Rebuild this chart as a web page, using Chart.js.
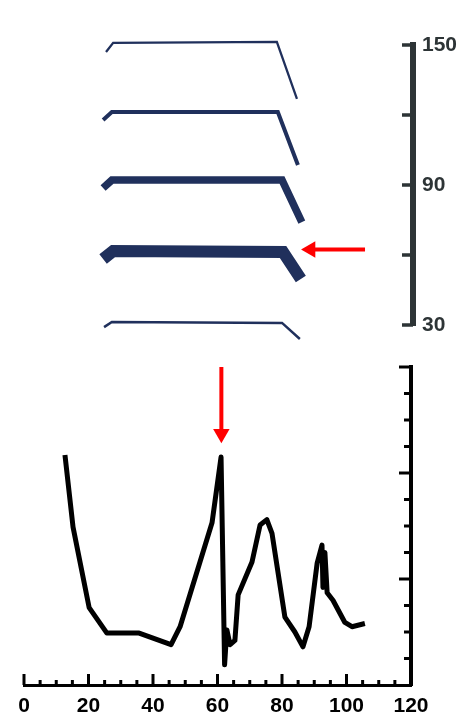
<!DOCTYPE html>
<html>
<head>
<meta charset="utf-8">
<script src="https://cdn.jsdelivr.net/npm/chart.js@4"></script>
<style>
  body { margin: 0; background: #fff; }
  #wrap { position: relative; width: 464px; height: 718px; }
  canvas { position: absolute; left: 0; }
  #top { top: 0; }
  #bottom { top: 350px; }
</style>
</head>
<body>
<div id="wrap">
  <canvas id="top" width="464" height="350"></canvas>
  <canvas id="bottom" width="464" height="368"></canvas>
</div>
<script>
// upper panel: five stacked profiles (x, y on the 30..150 axis)
var profile1X = [25.3, 27.5, 78.0, 84.2];
var profile1Y = [147.0, 150.9, 151.3, 126.9];
var profile2X = [24.4, 27.1, 78.3, 84.5];
var profile2Y = [117.9, 121.3, 121.3, 98.6];
var profile3X = [24.4, 27.1, 79.6, 85.7];
var profile3Y = [88.7, 92.1, 92.1, 74.1];
var profile4X = [24.4, 27.5, 79.9, 85.4];
var profile4Y = [58.3, 61.7, 61.3, 49.7];
var profile5X = [24.7, 27.1, 79.6, 85.1];
var profile5Y = [29.1, 31.3, 30.9, 24.0];
var profileWidths = [2.3, 4, 7.5, 12, 2.5];

var topTicks = [30, 60, 90, 120, 150];
var topLabels = [30, 90, 150];
var sideArrowX = [105.2, 88.4];
var sideArrowY = [62.4, 62.4];

// lower panel: trace on a 0..3 axis, x 0..120
var traceX = [12.7, 15.2, 20.2, 25.7, 35.7, 45.6, 48.4, 58.3, 61.1, 62.2, 62.9, 63.9, 65.4, 66.4,
              70.7, 73.2, 75.3, 76.9, 80.9, 84.0, 86.5, 88.4, 90.9, 92.4, 92.7, 93.3, 94.0, 95.8,
              99.5, 101.7, 105.7];
var traceY = [2.17, 1.49, 0.73, 0.49, 0.49, 0.38, 0.55, 1.53, 2.15, 0.19, 0.52, 0.38, 0.42, 0.85,
              1.16, 1.51, 1.56, 1.43, 0.64, 0.50, 0.36, 0.55, 1.15, 1.32, 0.92, 1.25, 0.87, 0.80,
              0.59, 0.55, 0.58];
var downArrowX = [61.2, 61.2];
var downArrowY = [3.0, 2.37];

var xMajor = [0, 20, 40, 60, 80, 100, 120];
var xMinor = [5, 10, 15, 25, 30, 35, 45, 50, 55, 65, 70, 75, 85, 90, 95, 105, 110, 115];
var yMajor = [1, 2, 3];
var yMinor = [0.25, 0.5, 0.75, 1.25, 1.5, 1.75, 2.25, 2.5, 2.75];

var NAVY = '#20305c';
var AXIS_DARK = '#2d3436';

function pts(xs, ys) {
    return xs.map(function(x, i){ return {x: x, y: ys[i]}; });
}

// tick marks that point into the plot
var innerTicks = {
    id: 'innerTicks',
    afterDraw: function(chart, args, opts) {
        var ctx = chart.ctx;
        ctx.save();
        ctx.lineCap = 'butt';
        opts.marks.forEach(function(m){
            var s = chart.scales[m.axis];
            ctx.strokeStyle = m.color;
            ctx.lineWidth = m.width;
            m.values.forEach(function(v){
                var p = s.getPixelForValue(v);
                ctx.beginPath();
                if (m.axis === 'x') {
                    ctx.moveTo(p, s.top);
                    ctx.lineTo(p, s.top - m.length);
                } else {
                    ctx.moveTo(s.left, p);
                    ctx.lineTo(s.left - m.length, p);
                }
                ctx.stroke();
            });
        });
        ctx.restore();
    }
};

var profileSets = [
    [profile1X, profile1Y], [profile2X, profile2Y], [profile3X, profile3Y],
    [profile4X, profile4Y], [profile5X, profile5Y]
].map(function(p, i){
    return {
        data: pts(p[0], p[1]),
        borderColor: NAVY,
        borderWidth: profileWidths[i],
        borderJoinStyle: 'miter',
        pointRadius: 0,
        tension: 0,
        clip: false
    };
});

profileSets.push({
    data: pts(sideArrowX, sideArrowY),
    borderColor: '#ff0000',
    backgroundColor: '#ff0000',
    borderWidth: 4,
    pointRadius: [0, 9.5],
    pointStyle: 'triangle',
    pointRotation: 270,
    pointBorderWidth: 0,
    tension: 0,
    clip: false
});

new Chart(document.getElementById('top'), {
    type: 'line',
    data: { datasets: profileSets },
    options: {
        responsive: false,
        animation: false,
        layout: { padding: { left: 24, top: 45, bottom: 25, right: 0 } },
        plugins: {
            legend: { display: false },
            tooltip: { enabled: false },
            innerTicks: { marks: [
                { axis: 'y', values: topTicks, length: 11, width: 3.5, color: AXIS_DARK }
            ] }
        },
        scales: {
            x: { type: 'linear', min: 0, max: 120, display: false },
            y: {
                type: 'linear', position: 'right', min: 30, max: 150,
                afterFit: function(s){ s.width = 51; },
                grid: { display: false, drawTicks: false },
                border: { display: true, color: AXIS_DARK, width: 6 },
                ticks: {
                    stepSize: 30,
                    padding: 9,
                    color: AXIS_DARK,
                    font: { family: 'Liberation Sans', size: 21, weight: 'bold' },
                    callback: function(v){ return topLabels.indexOf(v) >= 0 ? String(v) : ''; }
                }
            }
        }
    },
    plugins: [innerTicks]
});

new Chart(document.getElementById('bottom'), {
    type: 'line',
    data: {
        datasets: [{
            data: pts(traceX, traceY),
            borderColor: '#000',
            borderWidth: 5,
            borderJoinStyle: 'round',
            pointRadius: 0,
            tension: 0,
            clip: false
        }, {
            data: pts(downArrowX, downArrowY),
            borderColor: '#ff0000',
            backgroundColor: '#ff0000',
            borderWidth: 4,
            pointRadius: [0, 9.5],
            pointStyle: 'triangle',
            pointRotation: 180,
            pointBorderWidth: 0,
            tension: 0,
            clip: false
        }]
    },
    options: {
        responsive: false,
        animation: false,
        layout: { padding: { left: 24, top: 17, bottom: 0, right: 0 } },
        plugins: {
            legend: { display: false },
            tooltip: { enabled: false },
            innerTicks: { marks: [
                { axis: 'x', values: xMajor, length: 11, width: 3, color: '#000' },
                { axis: 'x', values: xMinor, length: 5, width: 3, color: '#000' },
                { axis: 'y', values: yMajor, length: 12, width: 3, color: '#000' },
                { axis: 'y', values: yMinor, length: 7, width: 3, color: '#000' }
            ] }
        },
        scales: {
            x: {
                type: 'linear', position: 'bottom', min: 0, max: 120,
                afterFit: function(s){ s.height = 33; },
                grid: { display: false, drawTicks: false },
                border: { display: true, color: '#000', width: 3 },
                ticks: {
                    stepSize: 20,
                    padding: 9,
                    color: '#000',
                    maxRotation: 0,
                    font: { family: 'Liberation Sans', size: 21, weight: 'bold' }
                }
            },
            y: {
                type: 'linear', position: 'right', min: 0, max: 3,
                afterFit: function(s){ s.width = 53; },
                grid: { display: false, drawTicks: false },
                border: { display: true, color: '#000', width: 4 },
                ticks: { display: false, stepSize: 1 }
            }
        }
    },
    plugins: [innerTicks]
});
</script>
</body>
</html>
